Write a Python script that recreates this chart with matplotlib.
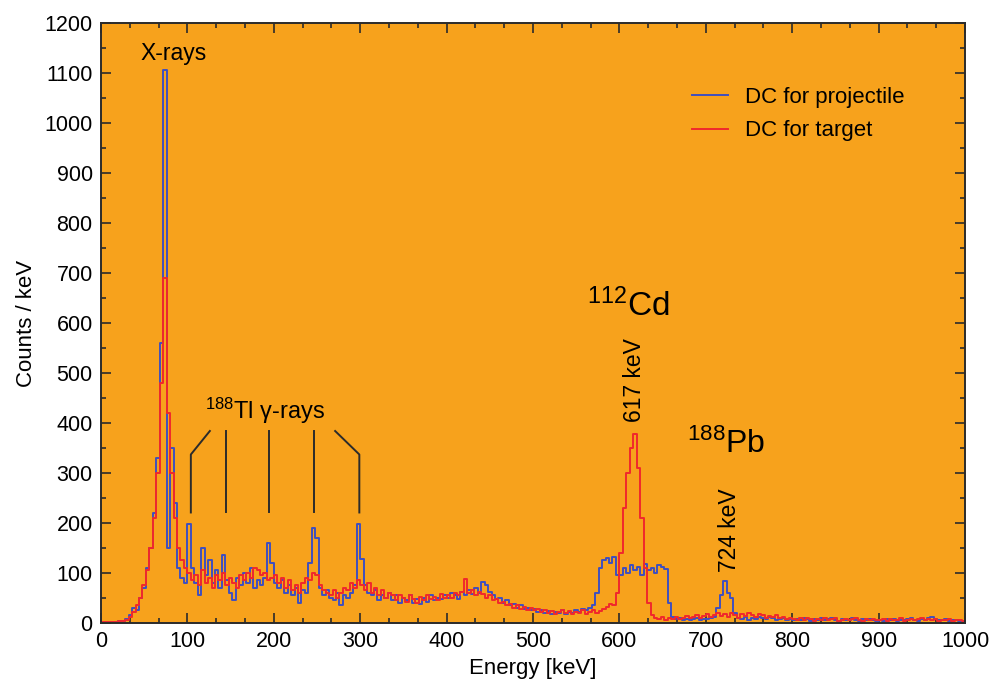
import numpy as np
import matplotlib
matplotlib.use('Agg')
import matplotlib.pyplot as plt

plt.rcParams['font.family'] = ['Liberation Sans', 'DejaVu Sans']
plt.rcParams['mathtext.fontset'] = 'custom'
plt.rcParams['mathtext.rm'] = 'Liberation Sans'

# spectrum, 4 keV bins (centres 2, 6, ..., 998 keV)
bin_width = 4
energy = np.arange(bin_width / 2, 1000, bin_width)

# DC for projectile
counts_proj = [
    2, 2, 2, 2, 2, 3, 4, 8, 15, 30, 25, 50, 70, 110, 150, 220, 330, 560, 1105, 150, 350, 240, 110, 90, 80,
    198, 110, 80, 55, 150, 95, 125, 80, 105, 70, 135, 85, 60, 45, 90, 75, 100, 80, 110, 70, 85, 75, 90, 160, 120,
    80, 70, 85, 60, 75, 55, 70, 40, 65, 60, 120, 190, 170, 70, 55, 65, 50, 45, 60, 36, 55, 50, 60, 75, 197,
    128, 75, 60, 55, 65, 45, 55, 50, 60, 45, 55, 40, 50, 45, 55, 40, 48, 38, 50, 42, 55, 45, 50, 48, 55,
    50, 60, 55, 48, 62, 55, 65, 58, 70, 60, 82, 75, 62, 55, 48, 50, 40, 45, 35, 38, 30, 35, 28, 30, 25,
    28, 22, 25, 20, 24, 18, 22, 20, 25, 18, 22, 20, 25, 22, 28, 25, 30, 35, 60, 110, 125, 130, 120, 132, 95,
    95, 110, 100, 115, 105, 112, 95, 118, 105, 110, 100, 115, 112, 108, 40, 12, 8, 10, 6, 8, 5, 7, 10, 6, 8,
    8, 10, 12, 30, 55, 84, 60, 50, 20, 10, 8, 12, 6, 10, 8, 12, 10, 8, 12, 10, 6, 8, 10, 6, 8,
    6, 8, 5, 10, 7, 4, 8, 6, 9, 5, 7, 10, 6, 4, 8, 6, 5, 9, 6, 4, 7, 5, 8, 6, 4,
    6, 4, 7, 5, 8, 4, 6, 5, 7, 9, 6, 4, 8, 6, 10, 12, 8, 6, 5, 7, 4, 6, 5, 3, 4,
]

# DC for target
counts_targ = [
    2, 2, 2, 2, 2, 3, 4, 6, 12, 22, 35, 50, 75, 105, 150, 210, 300, 480, 690, 420, 300, 210, 150, 125, 110,
    100, 85, 95, 75, 105, 80, 90, 70, 95, 85, 100, 75, 90, 80, 70, 95, 85, 100, 90, 110, 105, 95, 100, 85, 90,
    95, 80, 90, 70, 85, 65, 75, 60, 80, 90, 85, 100, 95, 75, 65, 60, 55, 65, 50, 60, 70, 65, 80, 70, 85,
    75, 65, 80, 60, 70, 55, 65, 50, 60, 55, 45, 55, 50, 42, 55, 48, 40, 52, 45, 55, 48, 52, 45, 58, 50,
    55, 50, 60, 55, 62, 88, 60, 65, 55, 62, 58, 50, 55, 45, 48, 40, 42, 35, 38, 30, 35, 28, 32, 25, 30,
    25, 28, 22, 26, 20, 24, 18, 22, 25, 20, 24, 18, 22, 20, 25, 18, 22, 25, 20, 24, 28, 32, 38, 35, 60,
    140, 230, 300, 350, 378, 310, 210, 110, 40, 15, 10, 8, 12, 6, 10, 8, 12, 7, 10, 14, 9, 12, 15, 10, 14,
    18, 12, 16, 20, 14, 18, 12, 20, 15, 10, 18, 14, 20, 16, 12, 18, 15, 10, 14, 12, 16, 10, 12, 8, 10,
    8, 6, 10, 5, 9, 7, 4, 8, 6, 10, 5, 7, 9, 4, 6, 8, 5, 7, 10, 6, 4, 8, 5, 7, 6,
    5, 7, 4, 8, 6, 5, 9, 4, 6, 8, 5, 7, 10, 6, 8, 5, 7, 4, 6, 5, 8, 4, 6, 5, 4,
]

# marker lines for the 188Tl gamma rays: (label end, peak) in keV
tl_peaks = [104, 145, 194, 246, 299]
tl_tops = [126, 145, 194, 246, 271]

bg = '#f7a21c'
blue = '#3f4fbf'
red = '#f0282c'
ink = '#2b2b2b'

fig = plt.figure(figsize=(9.92, 6.84), dpi=100)
ax = fig.add_axes([0.1018, 0.0892, 0.871, 0.8772])
ax.set_facecolor(bg)

ax.plot(energy, counts_proj, drawstyle='steps-mid', color=blue, lw=1.4,
        label='DC for projectile')
ax.plot(energy, counts_targ, drawstyle='steps-mid', color=red, lw=1.4,
        label='DC for target')

ax.set_xlim(0, 1000)
ax.set_ylim(0, 1200)
ax.set_xticks(np.arange(0, 1001, 100))
ax.set_xticks(np.arange(0, 1001, 100 / 3), minor=True)
ax.set_yticks(np.arange(0, 1201, 100))
ax.set_yticks(np.arange(0, 1201, 50), minor=True)
ax.tick_params(which='both', direction='in', top=True, right=True,
               colors=ink, labelcolor='black', labelsize=15.5)
ax.tick_params(which='major', length=7, width=1.2, pad=6)
ax.tick_params(which='minor', length=3.5, width=1.2)
for s in ax.spines.values():
    s.set_color(ink)
    s.set_linewidth(1.4)

ax.set_xlabel('Energy [keV]', fontsize=16, labelpad=4)
ax.set_ylabel('Counts / keV', fontsize=16, labelpad=5)

leg = ax.legend(loc='upper left', bbox_to_anchor=(0.684, 0.893), frameon=False,
                fontsize=16, handlelength=1.6, handletextpad=0.8,
                labelspacing=0.55, borderpad=0, borderaxespad=0)

# annotations
ax.text(84, 1138, 'X-rays', fontsize=16.5, ha='center', va='center')

ax.text(190, 424, r'$\mathregular{^{188}}$Tl γ-rays', fontsize=17,
        ha='center', va='center')
for top, pk in zip(tl_tops, tl_peaks):
    ax.plot([top, pk, pk], [384, 337, 221], color=ink, lw=1.4)

ax.text(610, 634, r'$\mathregular{^{112}}$Cd', fontsize=24,
        ha='center', va='center')
ax.text(617, 486, '617 keV', fontsize=16.5, rotation=90,
        ha='center', va='center')
ax.text(724, 358, r'$\mathregular{^{188}}$Pb', fontsize=23,
        ha='center', va='center')
ax.text(727, 186, '724 keV', fontsize=16.5, rotation=90,
        ha='center', va='center')

fig.savefig('out.png', dpi=100)
